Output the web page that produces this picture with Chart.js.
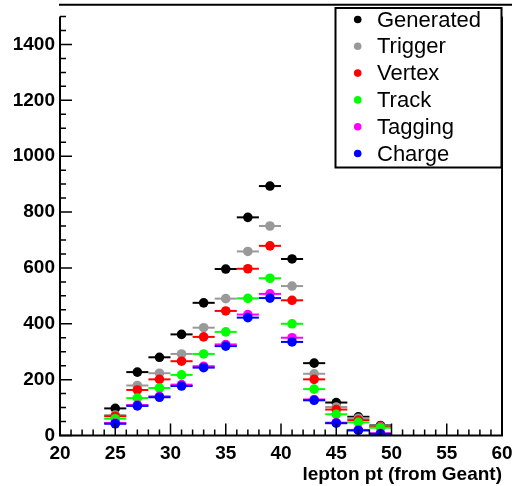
<!DOCTYPE html>
<html><head><meta charset="utf-8">
<script src="https://cdn.jsdelivr.net/npm/chart.js@4.4.1/dist/chart.umd.min.js"></script>
<style>html,body{margin:0;padding:0;background:#fff;}#wrap{width:512px;height:486px;}</style>
</head><body><div id="wrap"><canvas id="c" width="512" height="486"></canvas></div>
<script>
// ---- data ----
const binCenters = [25, 27, 29, 31, 33, 35, 37, 39, 41, 43, 45, 47, 49];
const xErr = 1; // half bin width
const generated = [97, 227, 280, 362, 475, 596, 781, 893, 632, 259, 118, 67, 36];
const trigger   = [73, 179, 223, 292, 386, 490, 659, 750, 535, 221, 102, 62, 33];
const vertex    = [69, 163, 201, 266, 353, 446, 597, 679, 484, 201, 93, 55, 30];
const track     = [60, 134, 170, 217, 292, 371, 491, 563, 400, 166, 76, 47, 28];
const tagging   = [45, 109, 140, 182, 248, 326, 433, 507, 350, 129, 46, 20, 8];
const charge    = [42, 106, 137, 177, 243, 320, 422, 492, 335, 126, 44, 18, 6];
const seriesNames = ["Generated", "Trigger", "Vertex", "Track", "Tagging", "Charge"];
const seriesValues = [generated, trigger, vertex, track, tagging, charge];
const seriesColors = ["#000000", "#999999", "#ff0000", "#00ff00", "#ff00ff", "#0000ff"];
const xTickValues = [20, 25, 30, 35, 40, 45, 50, 55, 60];
const yTickValues = [0, 200, 400, 600, 800, 1000, 1200, 1400];
const xAxisTitle = "lepton pt (from Geant)";

const FONT = "'Liberation Sans', Arial, Helvetica, sans-serif";

const datasets = seriesNames.map((name, i) => ({
  label: name,
  data: binCenters.map((x, k) => ({x: x, y: seriesValues[i][k]})),
  backgroundColor: seriesColors[i],
  borderColor: seriesColors[i],
  pointRadius: 4.8,
  pointBorderWidth: 0,
  pointHoverRadius: 4.8,
  showLine: false,
  order: seriesNames.length - 1 - i
}));

const rootStyle = {
  id: 'rootStyle',
  beforeDatasetDraw(chart, args) {
    const ctx = chart.ctx, xs = chart.scales.x, ys = chart.scales.y;
    const ds = chart.data.datasets[args.index];
    ctx.save();
    ctx.strokeStyle = ds.borderColor;
    ctx.lineWidth = 2;
    ds.data.forEach(p => {
      const y = ys.getPixelForValue(p.y);
      ctx.beginPath();
      ctx.moveTo(xs.getPixelForValue(p.x - xErr), y);
      ctx.lineTo(xs.getPixelForValue(p.x + xErr), y);
      ctx.stroke();
    });
    ctx.restore();
  },
  afterDraw(chart) {
    const ctx = chart.ctx, xs = chart.scales.x, ys = chart.scales.y, a = chart.chartArea;
    ctx.save();
    ctx.strokeStyle = '#000';
    ctx.lineWidth = 2;
    const yTop = ys.getPixelForValue(1500);
    // axes
    ctx.beginPath();
    ctx.moveTo(a.left, yTop); ctx.lineTo(a.left, a.bottom); ctx.lineTo(a.right, a.bottom); ctx.lineTo(a.right, yTop);
    ctx.stroke();
    // top line
    ctx.beginPath(); ctx.moveTo(a.left - 1, a.top); ctx.lineTo(512, a.top); ctx.stroke();
    // ticks
    ctx.lineWidth = 1.5;
    ctx.beginPath();
    for (let v = xs.min; v <= xs.max; v += 1) {
      const px = xs.getPixelForValue(v);
      const len = xTickValues.includes(v) ? 12 : 6;
      ctx.moveTo(px, a.bottom); ctx.lineTo(px, a.bottom - len);
    }
    for (let v = 0; v <= 1500; v += 50) {
      const py = ys.getPixelForValue(v);
      const len = yTickValues.includes(v) ? 12 : 6;
      ctx.moveTo(a.left, py); ctx.lineTo(a.left + len, py);
    }
    ctx.stroke();
    // legend
    const lx0 = 335.5, ly0 = 8, lx1 = 501.5, ly1 = 167.5;
    ctx.fillStyle = '#fff';
    ctx.fillRect(lx0, ly0, lx1 - lx0, ly1 - ly0);
    ctx.lineWidth = 2;
    ctx.strokeRect(lx0, ly0, lx1 - lx0, ly1 - ly0);
    ctx.font = '22px ' + FONT;
    ctx.textBaseline = 'middle';
    ctx.textAlign = 'left';
    seriesNames.forEach((name, i) => {
      const cy = 19.5 + i * 26.8;
      ctx.fillStyle = seriesColors[i];
      ctx.beginPath(); ctx.arc(357.7, cy, 3.8, 0, Math.PI * 2); ctx.fill();
      ctx.fillStyle = '#000';
      ctx.fillText(name, 377, cy + 1);
    });
    ctx.restore();
  }
};

new Chart(document.getElementById('c'), {
  type: 'scatter',
  data: {datasets},
  options: {
    responsive: false,
    animation: false,
    devicePixelRatio: 1,
    layout: {padding: {left: 0, right: 10, top: 1, bottom: 0}},
    plugins: {legend: {display: false}, tooltip: {enabled: false}},
    scales: {
      x: {
        type: 'linear', position: 'bottom', min: 20, max: 60,
        afterBuildTicks: s => { s.ticks = xTickValues.map(v => ({value: v})); },
        afterFit: s => { s.height = 50.5; s.paddingLeft = 0; s.paddingRight = 0; },
        ticks: {color: '#000', font: {family: FONT, size: 19, weight: 'bold'}, padding: 7, maxRotation: 0, autoSkip: false,
                callback: v => String(v)},
        grid: {display: false, drawTicks: false},
        border: {display: false},
        title: {display: true, text: xAxisTitle, align: 'end', color: '#000',
                font: {family: FONT, size: 19, weight: 'bold'}, padding: {top: 0, bottom: 0}}
      },
      y: {
        type: 'linear', min: 0, max: 1542,
        afterBuildTicks: s => { s.ticks = yTickValues.map(v => ({value: v})); },
        afterFit: s => { s.width = 60; s.paddingTop = 0; s.paddingBottom = 0; },
        ticks: {color: '#000', font: {family: FONT, size: 19, weight: 'bold'}, padding: 5, autoSkip: false,
                callback: v => String(v)},
        grid: {display: false, drawTicks: false},
        border: {display: false}
      }
    }
  },
  plugins: [rootStyle]
});
</script></body></html>
